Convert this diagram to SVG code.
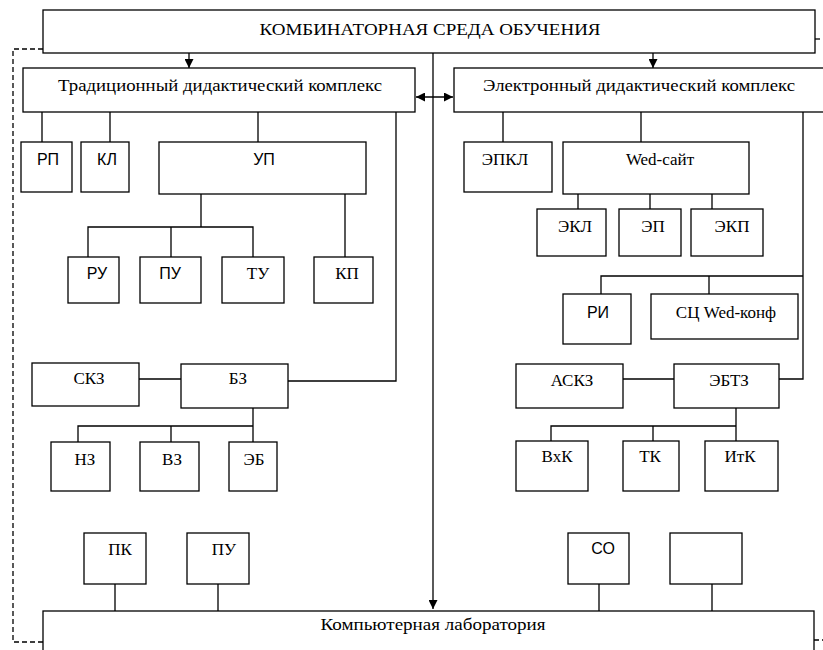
<svg xmlns="http://www.w3.org/2000/svg" width="823" height="650" viewBox="0 0 823 650">
<style>
.b{fill:#fff;stroke:#000;stroke-width:1.3}
.l{fill:none;stroke:#000;stroke-width:1.3}
.d{fill:none;stroke:#000;stroke-width:1.3;stroke-dasharray:5,3}
.s{font-family:"Liberation Serif","Times New Roman",serif;font-size:17px;fill:#000;text-anchor:middle}
.a{font-family:"Liberation Sans",Arial,sans-serif;font-size:16px;fill:#000;text-anchor:middle}
</style>
<defs>
<marker id="ar" viewBox="0 0 10 10" refX="10" refY="5" markerWidth="9" markerHeight="9" markerUnits="userSpaceOnUse" orient="auto-start-reverse">
<path d="M0,0 L10,5 L0,10 z" fill="#000"/>
</marker>
</defs>
<rect width="823" height="650" fill="#fff"/>
<g id="connectors">
<path class="d" d="M43,49 H13 V642 H43"/>
<path class="d" d="M815,39 H823"/>
<path class="d" d="M814,640 H823"/>
<path class="l" d="M433,53 V609" marker-end="url(#ar)"/>
<path class="l" d="M189,53 V68" marker-end="url(#ar)"/>
<path class="l" d="M653,53 V68" marker-end="url(#ar)"/>
<path class="l" d="M416,97 H453" marker-start="url(#ar)" marker-end="url(#ar)"/>
<path class="l" d="M42,112 V142 M110,112 V142 M258,112 V142"/>
<path class="l" d="M201,194 V227 M88,257 V227 H253 V257 M171,227 V257 M345,194 V257"/>
<path class="l" d="M396,112 V381 H288"/>
<path class="l" d="M139,379 H181"/>
<path class="l" d="M253,408 V442 M78,442 V426 H253 M171,426 V442"/>
<path class="l" d="M115,584 V611 M218,584 V611"/>
<path class="l" d="M503,112 V142 M641,112 V142"/>
<path class="l" d="M578,194 V209 M650,194 V209 M712,194 V209"/>
<path class="l" d="M803,112 V379 H779"/>
<path class="l" d="M601,294 V276 H803 M709,276 V294"/>
<path class="l" d="M623,379 H674"/>
<path class="l" d="M736,408 V441 M551,441 V426 H736 M653,426 V441"/>
<path class="l" d="M599,584 V611 M712,584 V611"/>
</g>
<g id="top"><rect class="b" x="43" y="10" width="772" height="43"/><text class="s" x="430" y="35" textLength="341" lengthAdjust="spacingAndGlyphs">КОМБИНАТОРНАЯ СРЕДА ОБУЧЕНИЯ</text></g>
<g id="trad"><rect class="b" x="23" y="68" width="392" height="44"/><text class="s" x="220" y="91" textLength="324" lengthAdjust="spacingAndGlyphs">Традиционный дидактический комплекс</text></g>
<g id="elec"><rect class="b" x="454" y="68" width="380" height="44"/><text class="s" x="639" y="91" textLength="312" lengthAdjust="spacingAndGlyphs">Электронный дидактический комплекс</text></g>
<g id="rp"><rect class="b" x="21" y="142" width="51" height="50"/><text class="a" x="48" y="165">РП</text></g>
<g id="kl"><rect class="b" x="81" y="142" width="48" height="50"/><text class="a" x="107" y="165">КЛ</text></g>
<g id="up"><rect class="b" x="159" y="142" width="207" height="52"/><text class="a" x="264" y="165">УП</text></g>
<g id="ru"><rect class="b" x="68" y="257" width="51" height="46"/><text class="a" x="97" y="279">РУ</text></g>
<g id="pu1"><rect class="b" x="140" y="257" width="61" height="46"/><text class="a" x="170" y="279">ПУ</text></g>
<g id="tu"><rect class="b" x="222" y="257" width="62" height="46"/><text class="s" x="258" y="279">ТУ</text></g>
<g id="kp"><rect class="b" x="314" y="257" width="59" height="46"/><text class="s" x="347" y="279">КП</text></g>
<g id="skz"><rect class="b" x="32" y="363" width="107" height="43"/><text class="s" x="89" y="384">СКЗ</text></g>
<g id="bz"><rect class="b" x="181" y="364" width="107" height="44"/><text class="s" x="238" y="384">БЗ</text></g>
<g id="nz"><rect class="b" x="51" y="442" width="59" height="49"/><text class="s" x="85" y="465">НЗ</text></g>
<g id="vz"><rect class="b" x="140" y="442" width="59" height="49"/><text class="s" x="172" y="465">ВЗ</text></g>
<g id="eb"><rect class="b" x="229" y="442" width="48" height="49"/><text class="s" x="254" y="465">ЭБ</text></g>
<g id="pk"><rect class="b" x="84" y="533" width="62" height="51"/><text class="s" x="120" y="555">ПК</text></g>
<g id="pu2"><rect class="b" x="187" y="533" width="62" height="51"/><text class="s" x="224" y="555">ПУ</text></g>
<g id="epkl"><rect class="b" x="464" y="142" width="88" height="50"/><text class="s" x="505" y="165">ЭПКЛ</text></g>
<g id="web"><rect class="b" x="563" y="142" width="186" height="52"/><text class="s" x="660" y="165">Wed-сайт</text></g>
<g id="ekl"><rect class="b" x="537" y="209" width="69" height="47"/><text class="s" x="575" y="232">ЭКЛ</text></g>
<g id="ep"><rect class="b" x="619" y="209" width="62" height="47"/><text class="s" x="653" y="232">ЭП</text></g>
<g id="ekp"><rect class="b" x="691" y="209" width="72" height="47"/><text class="s" x="732" y="232">ЭКП</text></g>
<g id="ri"><rect class="b" x="563" y="294" width="68" height="50"/><text class="a" x="598" y="318">РИ</text></g>
<g id="sc"><rect class="b" x="651" y="294" width="147" height="45"/><text class="s" x="726" y="318">СЦ Wed-конф</text></g>
<g id="askz"><rect class="b" x="516" y="364" width="107" height="44"/><text class="s" x="572" y="386">АСКЗ</text></g>
<g id="ebtz"><rect class="b" x="674" y="364" width="105" height="44"/><text class="s" x="729" y="386">ЭБТЗ</text></g>
<g id="vhk"><rect class="b" x="516" y="441" width="72" height="50"/><text class="s" x="557" y="462">ВхК</text></g>
<g id="tk"><rect class="b" x="623" y="441" width="56" height="50"/><text class="s" x="650" y="462">ТК</text></g>
<g id="itk"><rect class="b" x="705" y="441" width="73" height="50"/><text class="s" x="740" y="462">ИтК</text></g>
<g id="so"><rect class="b" x="568" y="533" width="61" height="51"/><text class="a" x="603" y="554">СО</text></g>
<g id="empty"><rect class="b" x="670" y="533" width="72" height="51"/></g>
<g id="lab"><rect class="b" x="43" y="611" width="771" height="50"/><text class="s" x="433" y="630" textLength="225" lengthAdjust="spacingAndGlyphs">Компьютерная лаборатория</text></g>
</svg>
